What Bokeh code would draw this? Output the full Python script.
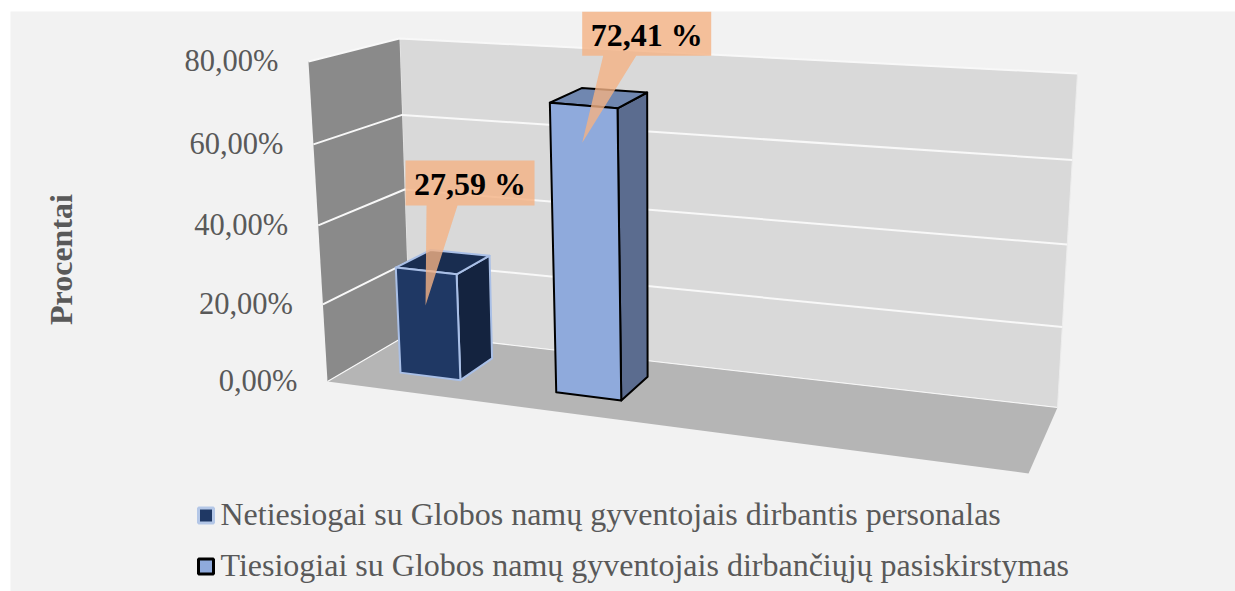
from bokeh.plotting import figure
from bokeh.embed import file_html
from bokeh.resources import INLINE
from bokeh.core.properties import value

# --- data ---
series_names = ["Netiesiogai su Globos namų gyventojais dirbantis personalas",
                "Tiesiogiai su Globos namų gyventojais dirbančiųjų pasiskirstymas"]
series_values = [27.59, 72.41]
data_labels = ["27,59 %", "72,41 %"]
tick_values = [0, 20, 40, 60, 80]
tick_labels = ["0,00%", "20,00%", "40,00%", "60,00%", "80,00%"]
axis_title = "Procentai"

# --- 3D box corners on the page (u along x, d into depth, v up) ---
FBL, FBR, BBL, BBR = (327, 381), (1028, 473), (409, 333), (1057, 407)
FTL, FTR, BTL, BTR = (308, 61), (1040, 126), (399, 38), (1077, 73)
VMAX = 80.0
BAR_U = [(0.0695, 0.157), (0.297, 0.392)]
BAR_D = (0.31, 0.74)

def warp(t):
    return t * (0.952 + 0.048 * t)

def proj(u, d, v):
    t = warp(v / VMAX)
    out = []
    for k in (0, 1):
        bf = FBL[k] + u * (FBR[k] - FBL[k])
        bb = BBL[k] + u * (BBR[k] - BBL[k])
        tf = FTL[k] + u * (FTR[k] - FTL[k])
        tb = BTL[k] + u * (BTR[k] - BTL[k])
        b = bf + d * (bb - bf)
        tp = tf + d * (tb - tf)
        out.append(b + t * (tp - b))
    return out

def poly(points):
    pts = [proj(*p) for p in points]
    return [a for a, _ in pts], [b for _, b in pts]

p = figure(width=1235, height=591, x_range=(0, 1235), y_range=(591, 0),
           output_backend="svg", toolbar_location=None, min_border=0,
           x_axis_type=None, y_axis_type=None, outline_line_color=None,
           background_fill_color="white", border_fill_color="white")
p.grid.visible = False

BG = "#f2f2f2"
p.quad(left=[10], right=[1235], top=[11], bottom=[591], fill_color=BG, line_color=None)

# walls and floor
x, y = poly([(0, 1, 0), (1, 1, 0), (1, 1, VMAX), (0, 1, VMAX)])
p.patch(x, y, fill_color="#d9d9d9", line_color="#ececec", line_width=1)
x, y = poly([(0, 0, 0), (0, 1, 0), (0, 1, VMAX), (0, 0, VMAX)])
p.patch(x, y, fill_color="#8a8a8a", line_color=None)
x, y = poly([(0, 0, 0), (1, 0, 0), (1, 1, 0), (0, 1, 0)])
p.patch(x, y, fill_color="#b5b5b5", line_color=None)

# gridlines
for v in tick_values:
    x, y = poly([(0, 0, v), (0, 1, v), (1, 1, v)])
    p.line(x, y, line_color="#f8f8f8", line_width=2 if v else 1.2)

# bars
bar_front = ["#1f3864", "#8faadc"]
bar_side = ["#14233f", "#5b6c8f"]
bar_top = ["#192d50", "#7087b0"]
bar_edge = ["#a9bfe6", "#000000"]
d0, d1 = BAR_D
for (u0, u1), val, cf, cs, ct, ce in zip(BAR_U, series_values, bar_front, bar_side, bar_top, bar_edge):
    w = 2
    x, y = poly([(u1, d0, 0), (u1, d1, 0), (u1, d1, val), (u1, d0, val)])
    p.patch(x, y, fill_color=cs, line_color=ce, line_width=w, line_join="round")
    x, y = poly([(u0, d0, val), (u1, d0, val), (u1, d1, val), (u0, d1, val)])
    p.patch(x, y, fill_color=ct, line_color=ce, line_width=w, line_join="round")
    x, y = poly([(u0, d0, 0), (u1, d0, 0), (u1, d0, val), (u0, d0, val)])
    p.patch(x, y, fill_color=cf, line_color=ce, line_width=w, line_join="round")

# callouts: (left, right, top, bottom, base left, base right) relative to the tip
callouts = [(-20, 109, -145, -100, 1, 32), (0, 129, -131, -87, 21, 54)]
CALL = "#f4b183"
for (u0, u1), val, lab, c in zip(BAR_U, series_values, data_labels, callouts):
    tx, ty = proj((u0 + u1) / 2 - 0.003, d0, val - 9)
    l, r, t, b, bl, br = c
    xs = [tx + l, tx + r, tx + r, tx + br, tx, tx + bl, tx + l]
    ys = [ty + t, ty + t, ty + b, ty + b, ty, ty + b, ty + b]
    p.patch(xs, ys, fill_color=CALL, fill_alpha=0.8, line_color=None)
    p.text([tx + (l + r) / 2], [ty + (t + b) / 2 + 1], text=[lab], text_font=value("Liberation Serif"),
           text_font_style="bold", text_font_size="32px", text_color="#000000",
           text_align="center", text_baseline="middle")

# tick labels along the front edge of the left wall
for v, lab in zip(tick_values, tick_labels):
    tx, ty = proj(0, 0, v)
    p.text([tx - 30], [ty - 0.5], text=[lab], text_font=value("Liberation Serif"), text_font_size="30.5px",
           text_color="#595959", text_align="right", text_baseline="middle")

# axis title
p.text([60], [259], text=[axis_title], angle=90, angle_units="deg", text_font=value("Liberation Serif"),
       text_font_style="bold", text_font_size="32px", text_color="#595959",
       text_align="center", text_baseline="middle")

# legend
leg_y = [515, 566]
leg_fill = ["#1f3864", "#8faadc"]
leg_edge = ["#b4c7e7", "#000000"]
for yy, name, f, e in zip(leg_y, series_names, leg_fill, leg_edge):
    p.scatter([205.5], [yy], marker="square", size=15, fill_color=f, line_color=e, line_width=3)
    p.text([220], [yy - 2], text=[name], text_font=value("Liberation Serif"), text_font_size="32px",
           text_color="#595959", text_align="left", text_baseline="middle")

open("out.html", "w").write(file_html(p, INLINE))
